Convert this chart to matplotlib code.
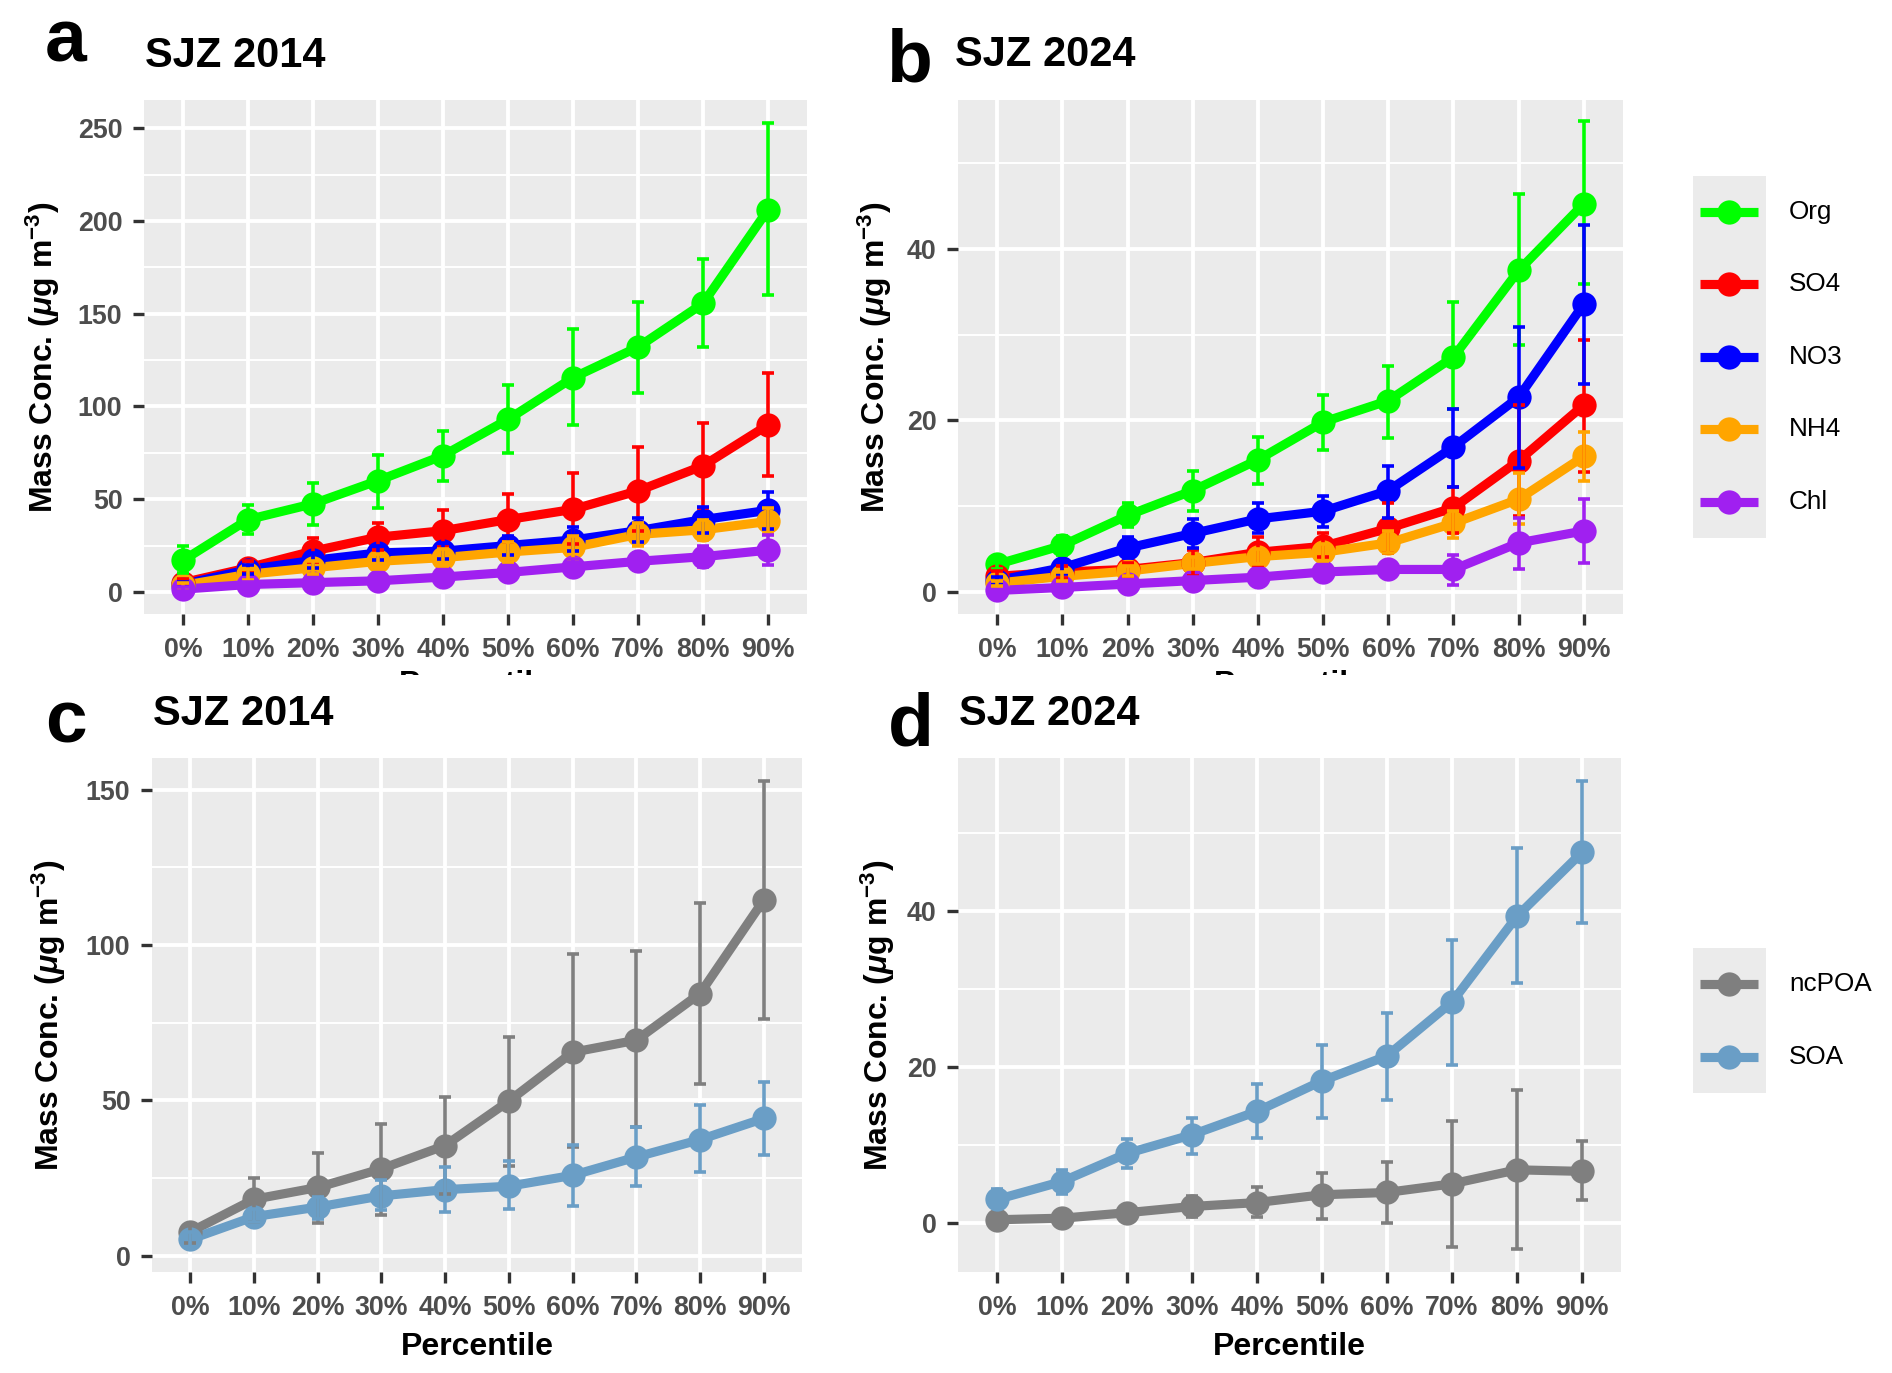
import matplotlib
matplotlib.use('Agg')
import matplotlib.pyplot as plt
from matplotlib.lines import Line2D
from matplotlib.patches import Rectangle
from matplotlib.ticker import MultipleLocator
import numpy as np

plt.rcParams['font.family'] = ['Liberation Sans', 'DejaVu Sans']
plt.rcParams['mathtext.fontset'] = 'custom'
plt.rcParams['mathtext.rm'] = 'Liberation Sans:bold'
plt.rcParams['mathtext.it'] = 'Liberation Sans:italic:bold'
plt.rcParams['mathtext.bf'] = 'Liberation Sans:bold'

# ---------------- data ----------------
percentiles = ['0%', '10%', '20%', '30%', '40%', '50%', '60%', '70%', '80%', '90%']

species = ['Org', 'SO4', 'NO3', 'NH4', 'Chl']
species_colors = ['#00FF00', '#FF0000', '#0000FF', '#FFA500', '#A020F0']

# Panel a: SJZ 2014 (mean, lower, upper)
org14 = [17, 39, 47.5, 60, 73.5, 93, 115.5, 132, 155.5, 206]
org14_lo = [10, 31, 36, 45, 60, 75, 90, 107, 132, 160]
org14_hi = [25, 47, 58.5, 74, 87, 111.5, 141.5, 156.5, 179.5, 253]
so414 = [5, 13, 22, 29.5, 33, 39, 44.5, 54.5, 68, 90]
so414_lo = [3, 10, 16, 22.5, 24, 27, 26, 33, 45, 62.5]
so414_hi = [7, 16.5, 29, 37, 44, 53, 64, 78, 91, 118]
no314 = [4, 12, 17, 21, 22, 25, 28, 33, 39, 44]
no314_lo = [2.5, 9.5, 13, 17, 18, 20, 22, 27, 32, 34]
no314_hi = [5.5, 14.5, 21, 25, 26.5, 30, 35, 40, 46, 54]
nh414 = [3.5, 9.5, 13, 16.5, 18.5, 21.5, 24, 31, 33.5, 38]
nh414_lo = [2, 6.5, 9.5, 12.5, 14, 16, 18, 25, 28, 31]
nh414_hi = [5, 12.5, 16.5, 20.5, 23, 27, 30, 37, 39, 45]
chl14 = [1.5, 4, 5, 6, 8, 10.5, 13.5, 16.5, 19, 22.5]
chl14_lo = [0.5, 2.5, 3, 3.5, 5, 7, 9.5, 12, 13.5, 14.5]
chl14_hi = [2.5, 5.5, 7, 8.5, 11, 14, 17.5, 21, 24.5, 30.5]

# Panel b: SJZ 2024
org24 = [3.2, 5.4, 8.9, 11.8, 15.4, 19.8, 22.3, 27.4, 37.5, 45.3]
org24_lo = [2.6, 4.3, 7.5, 9.4, 12.6, 16.6, 18.0, 21.3, 28.8, 35.9]
org24_hi = [3.8, 6.5, 10.3, 14.1, 18.1, 23.0, 26.3, 33.8, 46.4, 54.9]
so424 = [1.8, 2.3, 2.6, 3.4, 4.6, 5.3, 7.4, 9.8, 15.3, 21.8]
so424_lo = [1.2, 1.6, 1.8, 1.8, 3.1, 4.0, 4.5, 6.9, 8.8, 14.0]
so424_hi = [2.4, 3.0, 3.4, 4.9, 6.4, 6.8, 10.3, 12.2, 21.8, 29.4]
no324 = [1.3, 2.8, 5.1, 6.8, 8.5, 9.4, 11.8, 16.9, 22.7, 33.6]
no324_lo = [0.9, 2.1, 3.9, 5.1, 6.9, 7.5, 8.6, 12.2, 14.4, 24.3]
no324_hi = [1.7, 3.6, 6.4, 8.5, 10.3, 11.2, 14.7, 21.3, 30.9, 42.8]
nh424 = [1.0, 1.8, 2.4, 3.3, 4.1, 4.6, 5.7, 8.0, 10.8, 15.8]
nh424_lo = [0.7, 1.3, 1.8, 2.6, 3.2, 3.6, 4.5, 6.3, 7.9, 12.9]
nh424_hi = [1.3, 2.3, 3.0, 4.0, 5.0, 5.6, 7.1, 9.4, 13.9, 18.6]
chl24 = [0.15, 0.5, 0.9, 1.3, 1.7, 2.3, 2.6, 2.6, 5.7, 7.1]
chl24_lo = [0.05, 0.3, 0.6, 0.9, 1.2, 1.7, 1.9, 0.8, 2.7, 3.3]
chl24_hi = [0.25, 0.7, 1.2, 1.7, 2.2, 2.9, 3.4, 4.3, 8.6, 10.8]

oa_types = ['ncPOA', 'SOA']
oa_colors = ['#7F7F7F', '#6A9EC6']

# Panel c: SJZ 2014
ncpoa14 = [7.7, 18.2, 22, 28, 35.5, 49.8, 65.5, 69.4, 84.4, 114.5]
ncpoa14_lo = [4, 11, 10.5, 13.3, 20, 29, 35, 41.4, 55.4, 76.1]
ncpoa14_hi = [10, 25, 33, 42.3, 51, 70.4, 97.1, 98.1, 113.6, 152.8]
soa14 = [5.3, 12.6, 15.7, 19.3, 21.3, 22.4, 25.9, 31.8, 37.4, 44.2]
soa14_lo = [3, 11, 12, 14.7, 14, 15, 16.1, 22.4, 26.9, 32.5]
soa14_hi = [7.7, 15, 19, 24.5, 28.5, 30.4, 35.7, 41.4, 48.4, 56]

# Panel d: SJZ 2024
ncpoa24 = [0.4, 0.6, 1.3, 2.1, 2.6, 3.6, 3.9, 5.0, 6.8, 6.6]
ncpoa24_lo = [0.2, 0.4, 1.0, 0.7, 0.8, 0.5, 0.0, -3.1, -3.4, 2.9]
ncpoa24_hi = [0.6, 0.8, 1.6, 3.5, 4.6, 6.4, 7.8, 13.1, 17.0, 10.5]
soa24 = [3.0, 5.3, 8.9, 11.3, 14.3, 18.2, 21.4, 28.3, 39.3, 47.5]
soa24_lo = [2.1, 3.7, 7.0, 8.8, 10.9, 13.5, 15.8, 20.3, 30.7, 38.5]
soa24_hi = [4.3, 6.8, 10.7, 13.5, 17.8, 22.8, 26.9, 36.3, 48.0, 56.6]

# ---------------- figure ----------------
W, H = 1892, 1373
fig = plt.figure(figsize=(W / 100, H / 100), dpi=100)
fig.patch.set_facecolor('white')


def fx(x):
    return x / W


def fy(y):
    return 1 - y / H


def axes_px(l, t, r, b):
    return fig.add_axes([l / W, 1 - b / H, (r - l) / W, (b - t) / H])


TICK_COL = '#333333'
LAB_COL = '#4D4D4D'
LW = 6.6
MS = 17.5
ELW = 2.6


def style(ax, ylim, major, minor):
    ax.set_facecolor('#EBEBEB')
    for s in ax.spines.values():
        s.set_visible(False)
    ax.set_xlim(-0.6, 9.6)
    ax.set_ylim(*ylim)
    ax.set_xticks(range(len(percentiles)))
    ax.set_xticklabels(percentiles)
    ax.yaxis.set_major_locator(MultipleLocator(major))
    ax.yaxis.set_minor_locator(MultipleLocator(minor))
    ax.grid(which='major', color='white', lw=2.8)
    ax.grid(which='minor', axis='y', color='white', lw=1.4)
    ax.set_axisbelow(True)
    ax.tick_params(which='major', length=8, width=2.4, color=TICK_COL,
                   labelsize=19.3, labelcolor=LAB_COL)
    ax.tick_params(axis='x', pad=8.5)
    ax.tick_params(axis='y', pad=7.5)
    ax.tick_params(which='minor', length=0)
    for lab in ax.get_xticklabels() + ax.get_yticklabels():
        lab.set_fontweight('bold')


def draw(ax, series):
    x = np.arange(len(percentiles))
    for i, (name, color, m, lo, hi) in enumerate(series):
        ax.plot(x, m, color=color, lw=LW, zorder=3 + i * 0.01,
                solid_joinstyle='round')
    for i, (name, color, m, lo, hi) in enumerate(series):
        ax.plot(x, m, 'o', color=color, ms=MS, mew=0, zorder=4 + i * 0.01)
    for i, (name, color, m, lo, hi) in enumerate(series):
        m = np.array(m, float)
        ax.errorbar(x, m, yerr=[m - np.array(lo), np.array(hi) - m], fmt='none',
                    ecolor=color, elinewidth=ELW, capsize=4.4, capthick=ELW,
                    zorder=5 + i * 0.01)


def legend(names, colors, keys_y):
    top = keys_y[0] - 36
    bot = keys_y[-1] + 36
    fig.add_artist(Rectangle((fx(1693), fy(bot)), fx(73), (bot - top) / H,
                             transform=fig.transFigure, facecolor='#EBEBEB',
                             edgecolor='none', zorder=1))
    for n, c, yk in zip(names, colors, keys_y):
        fig.add_artist(Line2D([fx(1700), fx(1758)], [fy(yk), fy(yk)],
                              transform=fig.transFigure, color=c, lw=LW,
                              solid_capstyle='butt', zorder=2))
        fig.add_artist(Line2D([fx(1729)], [fy(yk)], marker='o', ms=MS, mew=0,
                              color=c, transform=fig.transFigure, zorder=3))
        fig.text(fx(1789), fy(yk), n, fontsize=18.8, va='center', ha='left',
                 color='black')


YLAB = 'Mass Conc. ($\\mu$g m$^{-3}$)'

# Panel a
axa = axes_px(144, 100, 807, 614)
style(axa, (-11.9, 265.2), 50, 25)
draw(axa, list(zip(species, species_colors,
                   [org14, so414, no314, nh414, chl14],
                   [org14_lo, so414_lo, no314_lo, nh414_lo, chl14_lo],
                   [org14_hi, so414_hi, no314_hi, nh414_hi, chl14_hi])))

# Panel b
axb = axes_px(958, 100, 1623, 614)
style(axb, (-2.6, 57.4), 20, 10)
draw(axb, list(zip(species, species_colors,
                   [org24, so424, no324, nh424, chl24],
                   [org24_lo, so424_lo, no324_lo, nh424_lo, chl24_lo],
                   [org24_hi, so424_hi, no324_hi, nh424_hi, chl24_hi])))

# Panel c
axc = axes_px(152, 758, 802, 1272)
style(axc, (-5.2, 160.2), 50, 25)
draw(axc, list(zip(oa_types, oa_colors,
                   [ncpoa14, soa14], [ncpoa14_lo, soa14_lo], [ncpoa14_hi, soa14_hi])))

# Panel d
axd = axes_px(958, 758, 1621, 1272)
style(axd, (-6.3, 59.6), 20, 10)
draw(axd, list(zip(oa_types, oa_colors,
                   [ncpoa24, soa24], [ncpoa24_lo, soa24_lo], [ncpoa24_hi, soa24_hi])))

# Y axis titles
for xc, ax_tb in [(43, (100, 614)), (875, (100, 614)), (49, (758, 1272)), (878, (758, 1272))]:
    fig.text(fx(xc), fy((ax_tb[0] + ax_tb[1]) / 2), YLAB, rotation=90, fontsize=23,
             fontweight='bold', ha='center', va='center', color='black')

# X axis titles (top row is cut off by the lower panels)
for xc in [(144 + 807) / 2, (958 + 1623) / 2]:
    fig.text(fx(xc), fy(693), 'Percentile', fontsize=23, fontweight='bold',
             ha='center', va='baseline', color='black', zorder=3)
fig.add_artist(Rectangle((0, fy(697)), 1, (697 - 675) / H, transform=fig.transFigure,
                         facecolor='white', edgecolor='none', zorder=10))
for xc in [(152 + 802) / 2, (958 + 1621) / 2]:
    fig.text(fx(xc), fy(1355), 'Percentile', fontsize=23, fontweight='bold',
             ha='center', va='baseline', color='black')

# Titles and panel letters
fig.text(fx(145), fy(67), 'SJZ 2014', fontsize=30, fontweight='bold', va='baseline', zorder=11)
fig.text(fx(955), fy(66), 'SJZ 2024', fontsize=30, fontweight='bold', va='baseline', zorder=11)
fig.text(fx(153), fy(725), 'SJZ 2014', fontsize=30, fontweight='bold', va='baseline', zorder=11)
fig.text(fx(959), fy(725), 'SJZ 2024', fontsize=30, fontweight='bold', va='baseline', zorder=11)
fig.text(fx(45), fy(62), 'a', fontsize=54, fontweight='bold', va='baseline', zorder=11)
fig.text(fx(886), fy(81), 'b', fontsize=54, fontweight='bold', va='baseline', zorder=11)
fig.text(fx(45), fy(743), 'c', fontsize=54, fontweight='bold', va='baseline', zorder=11)
fig.text(fx(888), fy(746), 'd', fontsize=54, fontweight='bold', va='baseline', zorder=11)

# Legends
legend(species, species_colors, [212, 284, 357, 429, 502])
legend(oa_types, oa_colors, [984, 1057])

fig.savefig('out.png', dpi=100, facecolor='white')
